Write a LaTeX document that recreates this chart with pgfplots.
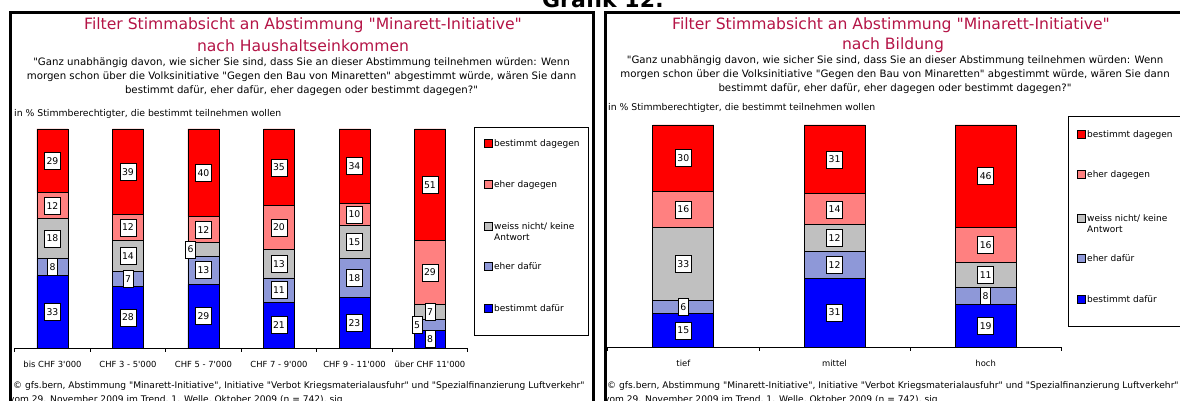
\documentclass[border=0pt]{standalone}
\usepackage{pgfplots}
\pgfplotsset{compat=1.18}
\usepackage{pgfplotstable}
\usepackage{fontspec}
\setmainfont{DejaVu Sans}[Ligatures=TeXOff]

\definecolor{cBG}{RGB}{255,0,0}
\definecolor{cEG}{RGB}{255,128,128}
\definecolor{cWN}{RGB}{192,192,192}
\definecolor{cED}{RGB}{142,152,216}
\definecolor{cBD}{RGB}{0,0,255}
\definecolor{titel}{RGB}{180,20,70}

% bd = bestimmt dafuer, ed = eher dafuer, wn = weiss nicht, eg = eher dagegen, bg = bestimmt dagegen
% edx, wnx = seitlicher Versatz des Wertelabels in pt, n0 = kein Versatz
\pgfplotstableread{
x bd ed wn eg bg edx wnx n0
0 33 8  18 12 29 0   0   0
1 28 7  14 12 39 0   0   0
2 29 13 6  12 40 0   -13 0
3 21 11 13 20 35 0   0   0
4 23 18 15 10 34 0   0   0
5 8  5  7  29 51 -13 0   0
}\einkommen

\pgfplotstableread{
x bd ed wn eg bg edx wnx n0
0 15 6  33 16 30 0 0 0
1 31 12 12 14 31 0 0 0
2 19 8  11 16 46 0 0 0
}\bildung

\pgfplotsset{
  stimm/.style={
    scale only axis, ybar stacked, ymin=0, ymax=100,
    axis y line=none, axis x line*=bottom,
    axis line style={black, line width=0.8pt},
    major tick length=0pt, minor tick length=4pt, tick align=outside,
    minor tick style={black, line width=0.8pt},
    xticklabel style={font=\fontsize{8.4}{10}\selectfont, yshift=-9.5pt},
    point meta=explicit symbolic,
    visualization depends on={rawy \as \val},
    nodes near coords={\pgfmathprintnumber[fixed, precision=0]{\val}},
    /pgf/number format/assume math mode=true,
    every node near coord/.append style={anchor=center, fill=white, draw=black,
      line width=0.6pt, inner xsep=2pt, inner ysep=0pt, minimum height=17pt,
      font=\fontsize{9.3}{10}\selectfont, xshift=\pgfplotspointmeta pt},
    clip=false,
  },
  seg/.style={fill=#1, draw=black, line width=0.8pt},
}

\newcommand\eintrag[4]{% x, y (Mitte), Farbe, Text
  \filldraw[fill=#3, draw=black, line width=0.6pt] (#1pt,#2pt-4pt) rectangle (#1pt+8pt,#2pt+4pt);
  \node[anchor=base west, inner sep=0pt, font=\fontsize{9}{11}\selectfont] at (#1pt+10pt,#2pt-3.5pt) {#4};}

\begin{document}
\begin{tikzpicture}
\useasboundingbox (0,0) rectangle (1180pt,401pt);

% Rahmen
\draw[line width=3pt] (10pt,-20pt) -- (10pt,388pt) -- (593pt,388pt) -- (593pt,-20pt);
\draw[line width=3pt] (605pt,-20pt) -- (605pt,388pt) -- (1200pt,388pt);
\node[anchor=base, font=\bfseries\fontsize{22}{26}\selectfont] at (603pt,393pt) {Grafik 12:};

% ---------- Panel 1: Haushaltseinkommen ----------
\node[anchor=base, text=titel, font=\fontsize{15.6}{18}\selectfont] at (303pt,371pt) {Filter Stimmabsicht an Abstimmung "Minarett-Initiative"};
\node[anchor=base, text=titel, font=\fontsize{15.6}{18}\selectfont] at (303pt,349pt) {nach Haushaltseinkommen};
\begin{scope}[every node/.style={anchor=base, font=\fontsize{10.2}{13}\selectfont}]
\node at (301.5pt,335pt) {"Ganz unabhängig davon, wie sicher Sie sind, dass Sie an dieser Abstimmung teilnehmen würden: Wenn};
\node at (301.5pt,321pt) {morgen schon über die Volksinitiative "Gegen den Bau von Minaretten" abgestimmt würde, wären Sie dann};
\node at (301.5pt,307pt) {bestimmt dafür, eher dafür, eher dagegen oder bestimmt dagegen?"};
\end{scope}
\node[anchor=base west, inner sep=0pt, font=\fontsize{9.3}{10}\selectfont] at (14pt,284pt) {in \% Stimmberechtigter, die bestimmt teilnehmen wollen};

\begin{axis}[stimm,
  at={(14.75pt,53pt)}, anchor=south west, width=453pt, height=219pt,
  xmin=-0.5, xmax=5.5, bar width=31pt,
  xtick={0,...,5}, minor xtick={-0.5,0.5,...,5.5},
  xticklabels={bis CHF 3'000, CHF 3 - 5'000, CHF 5 - 7'000,
    CHF 7 - 9'000, CHF 9 - 11'000, über CHF 11'000},
]
\addplot[seg=cBD] table[x=x, y=bd, meta=n0] {\einkommen};
\addplot[seg=cED] table[x=x, y=ed, meta=edx] {\einkommen};
\addplot[seg=cWN] table[x=x, y=wn, meta=wnx] {\einkommen};
\addplot[seg=cEG] table[x=x, y=eg, meta=n0] {\einkommen};
\addplot[seg=cBG] table[x=x, y=bg, meta=n0] {\einkommen};
\end{axis}

\draw[line width=0.8pt] (474pt,66pt) rectangle (588pt,274pt);
\eintrag{484}{258}{cBG}{bestimmt dagegen}
\eintrag{484}{217}{cEG}{eher dagegen}
\eintrag{484}{175}{cWN}{weiss nicht/ keine}
\node[anchor=base west, inner sep=0pt, font=\fontsize{9}{11}\selectfont] at (494pt,160pt) {Antwort};
\eintrag{484}{135}{cED}{eher dafür}
\eintrag{484}{93}{cBD}{bestimmt dafür}

\begin{scope}[every node/.style={anchor=base west, inner sep=0pt, font=\fontsize{9.1}{10}\selectfont}]
\node at (13pt,12pt) {© gfs.bern, Abstimmung "Minarett-Initiative", Initiative "Verbot Kriegsmaterialausfuhr" und "Spezialfinanzierung Luftverkehr"};
\node at (9pt,-2pt) {vom 29. November 2009 im Trend, 1. Welle, Oktober 2009 (n = 742), sig};
\end{scope}

% ---------- Panel 2: Bildung ----------
\node[anchor=base, text=titel, font=\fontsize{15.6}{18}\selectfont] at (891pt,371pt) {Filter Stimmabsicht an Abstimmung "Minarett-Initiative"};
\node[anchor=base, text=titel, font=\fontsize{15.6}{18}\selectfont] at (893pt,351pt) {nach Bildung};
\begin{scope}[every node/.style={anchor=base, font=\fontsize{10.2}{13}\selectfont}]
\node at (895pt,337pt) {"Ganz unabhängig davon, wie sicher Sie sind, dass Sie an dieser Abstimmung teilnehmen würden: Wenn};
\node at (895pt,323pt) {morgen schon über die Volksinitiative "Gegen den Bau von Minaretten" abgestimmt würde, wären Sie dann};
\node at (895pt,309pt) {bestimmt dafür, eher dafür, eher dagegen oder bestimmt dagegen?"};
\end{scope}
\node[anchor=base west, inner sep=0pt, font=\fontsize{9.3}{10}\selectfont] at (608pt,290pt) {in \% Stimmberechtigter, die bestimmt teilnehmen wollen};

\begin{axis}[stimm,
  at={(607.75pt,54pt)}, anchor=south west, width=453.5pt, height=222pt,
  xmin=-0.5, xmax=2.5, bar width=61pt,
  xtick={0,1,2}, minor xtick={-0.5,0.5,...,2.5},
  xticklabels={tief, mittel, hoch},
]
\addplot[seg=cBD] table[x=x, y=bd, meta=n0] {\bildung};
\addplot[seg=cED] table[x=x, y=ed, meta=edx] {\bildung};
\addplot[seg=cWN] table[x=x, y=wn, meta=wnx] {\bildung};
\addplot[seg=cEG] table[x=x, y=eg, meta=n0] {\bildung};
\addplot[seg=cBG] table[x=x, y=bg, meta=n0] {\bildung};
\end{axis}

\draw[line width=0.8pt] (1068pt,75pt) rectangle (1200pt,285pt);
\eintrag{1077}{267}{cBG}{bestimmt dagegen}
\eintrag{1077}{227}{cEG}{eher dagegen}
\eintrag{1077}{183}{cWN}{weiss nicht/ keine}
\node[anchor=base west, inner sep=0pt, font=\fontsize{9}{11}\selectfont] at (1087pt,168pt) {Antwort};
\eintrag{1077}{143}{cED}{eher dafür}
\eintrag{1077}{102}{cBD}{bestimmt dafür}

\begin{scope}[every node/.style={anchor=base west, inner sep=0pt, font=\fontsize{9.1}{10}\selectfont}]
\node at (607pt,12pt) {© gfs.bern, Abstimmung "Minarett-Initiative", Initiative "Verbot Kriegsmaterialausfuhr" und "Spezialfinanzierung Luftverkehr"};
\node at (604pt,-2pt) {vom 29. November 2009 im Trend, 1. Welle, Oktober 2009 (n = 742), sig};
\end{scope}
\end{tikzpicture}
\end{document}
